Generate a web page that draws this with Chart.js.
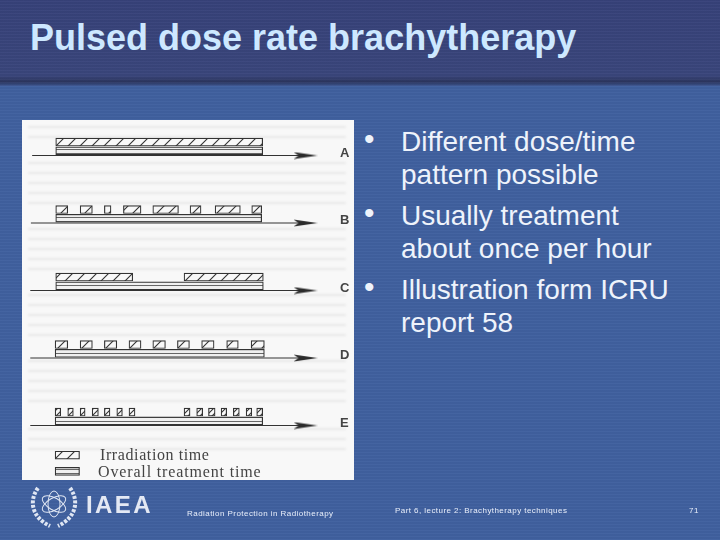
<!DOCTYPE html>
<html>
<head>
  <title>Pulsed dose rate brachytherapy</title>
  <script src="https://cdn.jsdelivr.net/npm/chart.js@4/dist/chart.umd.min.js"></script>
  <style>
    html, body { margin: 0; padding: 0; }
    #slide { position: relative; width: 720px; height: 540px; overflow: hidden; font-family: "Liberation Sans", Arial, sans-serif;
      background: repeating-linear-gradient(0deg, rgba(255,255,255,0.025) 0 1px, rgba(0,0,0,0.025) 1px 3px), #40609f; }
    #header { position: absolute; left: 0; top: 0; width: 720px; height: 86px;
      background: repeating-linear-gradient(0deg, rgba(255,255,255,0.025) 0 1px, rgba(0,0,0,0.03) 1px 3px), linear-gradient(#37427a 0, #3a467c 88%, #2c365f 95%, #3c5590 100%); }
    #title { position: absolute; left: 30px; top: 17px; font-size: 36px; font-weight: bold; color: #cde8ff; white-space: nowrap; }
    #figure { position: absolute; left: 22px; top: 120px; width: 332px; height: 360px; background: #f8f8f8; overflow: hidden; }
    .scan { position: absolute; left: 6px; width: 318px; filter: blur(1.2px);
      background: repeating-linear-gradient(0deg, rgba(120,120,120,0.12) 0 2px, transparent 2px 10px); }
    #lineChart { position: absolute; left: 0; top: 0; filter: blur(0.35px); }
    .key { position: absolute; font-family: "Liberation Serif", serif; font-size: 16px; color: #444; white-space: nowrap; }
    .bullet { position: absolute; left: 401px; font-size: 28px; line-height: 33px; color: #eef3fb; white-space: nowrap; }
    .dot { position: absolute; left: 364px; font-size: 30px; line-height: 33px; color: #eef3fb; }
    .foot { position: absolute; color: #e8eefa; font-size: 8px; white-space: nowrap; }
    #iaea { position: absolute; left: 86px; top: 491px; font-size: 24px; font-weight: bold; letter-spacing: 2.4px; color: #e4e9f4; }
    #emblem { position: absolute; left: 28px; top: 482px; }
  </style>
</head>
<body>
<div id="slide">
  <div id="header"></div>
  <div id="title">Pulsed dose rate brachytherapy</div>

  <div id="figure">
    <div class="scan" style="top:2px;height:16px"></div>
    <div class="scan" style="top:42px;height:42px"></div>
    <div class="scan" style="top:108px;height:42px"></div>
    <div class="scan" style="top:174px;height:42px"></div>
    <div class="scan" style="top:240px;height:42px"></div>
    <div class="scan" style="top:308px;height:22px"></div>
    <canvas id="lineChart" width="332" height="360"></canvas>
    <div class="key" style="left:78px;top:326px;letter-spacing:0.6px">Irradiation time</div>
    <div class="key" style="left:76px;top:343px;letter-spacing:0.85px">Overall treatment time</div>
  </div>

  <div class="dot" style="top:122px">&bull;</div>
  <div class="bullet" style="top:125px">Different dose/time<br>pattern possible</div>
  <div class="dot" style="top:196px">&bull;</div>
  <div class="bullet" style="top:199px">Usually treatment<br>about once per hour</div>
  <div class="dot" style="top:270px">&bull;</div>
  <div class="bullet" style="top:273px">Illustration form ICRU<br>report 58</div>

  <svg id="emblem" width="52" height="48" viewBox="0 0 52 48" fill="none" stroke="#dfe6f3">
    <path d="M10 6 C1 18 3 35 22 44" stroke-width="4" stroke-dasharray="3 1.5"/>
    <path d="M42 6 C51 18 49 35 30 44" stroke-width="4" stroke-dasharray="3 1.5"/>
    <ellipse cx="26" cy="22" rx="13" ry="6" stroke-width="1" transform="rotate(30 26 22)"/>
    <ellipse cx="26" cy="22" rx="13" ry="6" stroke-width="1" transform="rotate(90 26 22)"/>
    <ellipse cx="26" cy="22" rx="13" ry="6" stroke-width="1" transform="rotate(150 26 22)"/>
  </svg>
  <div id="iaea">IAEA</div>
  <div class="foot" style="left:187px;top:509px;letter-spacing:0.45px">Radiation Protection in Radiotherapy</div>
  <div class="foot" style="left:395px;top:506px;letter-spacing:0.44px">Part 6, lecture 2: Brachytherapy techniques</div>
  <div class="foot" style="left:689px;top:506px;letter-spacing:0.6px">71</div>
</div>

<script>
  // treatment schemes, time in % of the overall treatment time
  const rowLabels = ['A', 'B', 'C', 'D', 'E'];
  const pulsesA = [[0, 100]];
  const pulsesB = [[0, 5.8], [11.8, 17.7], [23.5, 26.7], [32.7, 41.2], [46.9, 59.3], [64.9, 70.2], [77, 89.2], [94.7, 99.5]];
  const pulsesC = [[0, 37.2], [62, 100.3]];
  const pulsesD = [[-0.3, 5.8], [11.8, 17.7], [23.5, 29.5], [35.4, 41.2], [46.9, 53], [58.8, 64.6], [70.5, 76.5], [82.6, 88.2], [94.4, 100.8]];
  const pulsesE = [[-0.3, 2.4], [5.8, 8.5], [11.8, 14.2], [17.6, 20.6], [23.5, 26.2], [29.5, 32.2], [35.4, 38.3],
                   [62, 64.9], [68.1, 71], [73.8, 77], [79.9, 82.6], [85.8, 88.7], [92, 94.7], [97.1, 100]];
  const overallTimes = [[0, 100], [0, 99.5], [0, 100.3], [-0.3, 100.8], [-0.3, 100]];
  const axisStarts = [-11.4, -12, -12.3, -12.3, -12.3];
  const axisEnd = 120.7;
  const keyIrradiation = [-0.3, 11.5];
  const keyOverall = [-0.3, 11.5];
  const keyRows = [4.44, 4.68];

  const widePulses = [pulsesA, pulsesB, pulsesC, pulsesD];

  // slanted hatch, the short pulses of row E need a tighter one
  function makeHatch(size) {
    const c = document.createElement('canvas');
    c.width = size; c.height = size;
    const g = c.getContext('2d');
    g.fillStyle = '#f8f8f8';
    g.fillRect(0, 0, size, size);
    g.strokeStyle = '#333';
    g.lineWidth = 1.1;
    g.beginPath();
    g.moveTo(0, size); g.lineTo(size, 0);
    g.moveTo(-2, 2); g.lineTo(2, -2);
    g.moveTo(size - 2, size + 2); g.lineTo(size + 2, size - 2);
    g.stroke();
    return g.createPattern(c, 'repeat');
  }

  function makeBands() {
    const c = document.createElement('canvas');
    c.width = 4; c.height = 4;
    const g = c.getContext('2d');
    g.fillStyle = '#f0f0f0';
    g.fillRect(0, 0, 4, 4);
    g.fillStyle = '#666';
    g.fillRect(0, 1, 4, 1);
    return g.createPattern(c, 'repeat');
  }

  function makeArrowHead() {
    const c = document.createElement('canvas');
    c.width = 24; c.height = 8;
    const g = c.getContext('2d');
    g.fillStyle = '#2b2b2b';
    g.beginPath();
    g.moveTo(0, 0.5); g.lineTo(24, 4); g.lineTo(0, 7.5); g.lineTo(5, 4);
    g.closePath();
    g.fill();
    return c;
  }

  const arrowHead = makeArrowHead();
  const bands = makeBands();

  const pulseData = [];
  widePulses.forEach((row, i) => row.forEach(p => pulseData.push({ x: p, y: i - 0.2 })));
  pulseData.push({ x: keyIrradiation, y: keyRows[0] });

  const shortPulseData = pulsesE.map(p => ({ x: p, y: 4 - 0.2 }));

  const overallData = overallTimes.map((p, i) => ({ x: p, y: i - 0.07 }));
  overallData.push({ x: keyOverall, y: keyRows[1] });

  const axisLines = rowLabels.map((_, i) => ({
    type: 'line',
    data: [{ x: axisStarts[i], y: i }, { x: axisEnd, y: i }],
    borderColor: '#333',
    borderWidth: 1.1,
    pointRadius: [0, 5],
    pointStyle: arrowHead
  }));

  const barStyle = { type: 'bar', indexAxis: 'y', borderColor: '#333', borderWidth: 1.2, borderSkipped: false, barThickness: 8, grouped: false };

  new Chart(document.getElementById('lineChart').getContext('2d'), {
    type: 'bar',
    data: {
      datasets: [
        ...axisLines,
        { ...barStyle, data: overallData, backgroundColor: bands },
        { ...barStyle, data: pulseData, backgroundColor: makeHatch(12) },
        { ...barStyle, data: shortPulseData, backgroundColor: makeHatch(6) }
      ]
    },
    options: {
      responsive: false,
      animation: false,
      devicePixelRatio: 1,
      layout: { padding: 0, autoPadding: false },
      plugins: { legend: { display: false }, tooltip: { enabled: false }, title: { display: false } },
      scales: {
        x: { type: 'linear', display: false, offset: false, min: -16.3, max: 130.1 },
        y: { type: 'linear', display: false, offset: false, reverse: true, min: -0.526, max: 4.807 },
        letters: {
          type: 'linear',
          position: 'right',
          offset: false,
          reverse: true,
          min: -0.49,
          max: 4.843,
          grid: { display: false },
          border: { display: false },
          afterFit: scale => { scale.width = 29; scale.paddingTop = 0; scale.paddingBottom = 0; },
          afterBuildTicks: scale => { scale.ticks = rowLabels.map((_, i) => ({ value: i })); },
          ticks: {
            autoSkip: false,
            padding: 7,
            color: '#444',
            font: { family: 'Liberation Sans', size: 13, weight: 'bold' },
            callback: value => rowLabels[value]
          }
        }
      }
    }
  });
</script>
</body>
</html>
